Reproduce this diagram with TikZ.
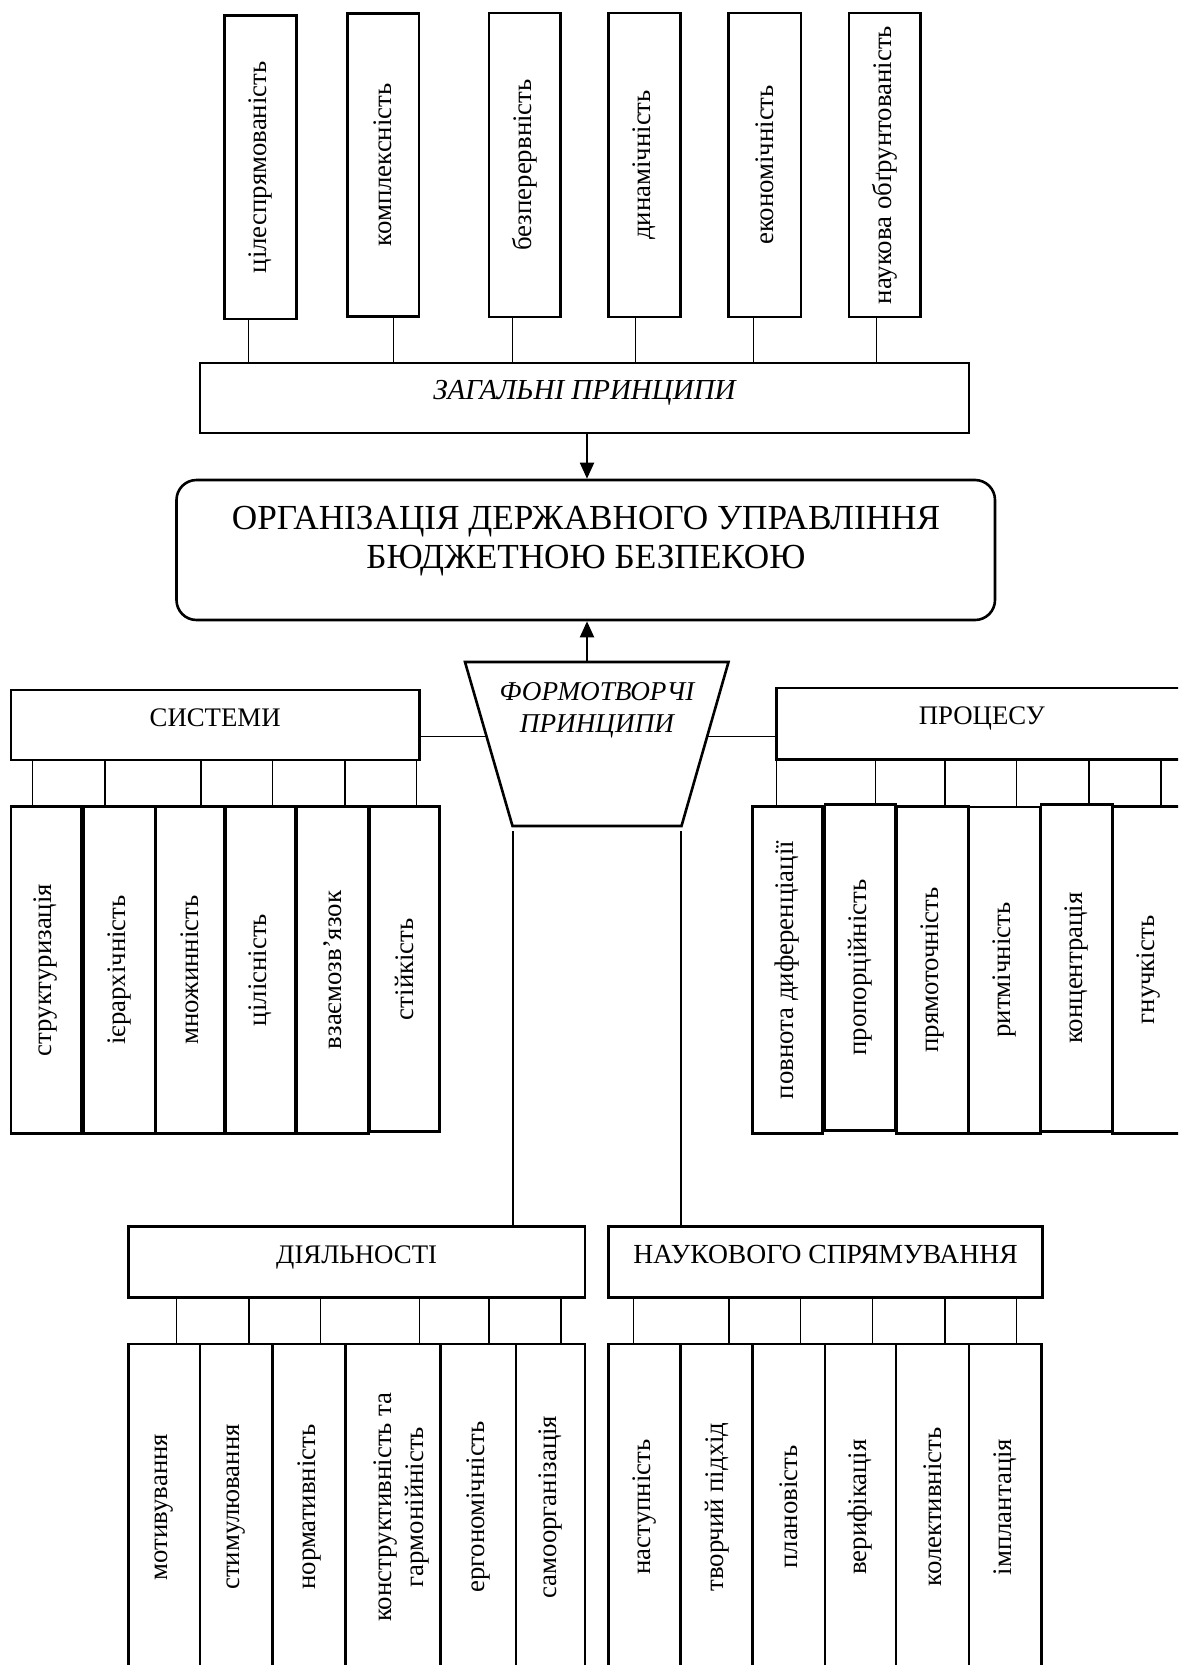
\documentclass[tikz,border=0pt]{standalone}
\usepackage{fontspec}
\setmainfont{Liberation Serif}
\usepackage{graphicx}
\usetikzlibrary{arrows.meta}

% box from corners: name, x1, x2, y1, y2, style, text
\newcommand\boxnode[7]{%
  \node[#6, minimum width={(#3-#2)*0.5pt}, minimum height={(#5-#4)*0.5pt}]
    (#1) at ({(#2+#3)/2},{(#4+#5)/2}) {#7};}
\newcommand\vtext[1]{\rotatebox{90}{#1}}

\tikzset{
  frame/.style={draw, line width=1.3pt, inner sep=0pt,
    font=\fontsize{13.4}{16}\selectfont},
  hdr/.style={frame, text height=9pt, text depth=7.9pt},
  item/.style={frame},
  conn/.style={line width=0.6pt},
  arr/.style={line width=1pt, -{Triangle[length=8pt,width=7pt]}},
}

\begin{document}
\begin{tikzpicture}[x=0.5pt,y=-0.5pt]
\path[use as bounding box] (0,0) rectangle (1178,1665);
\fill[white] (0,0) rectangle (1178,1665);
\clip (0,0) rectangle (1178,1665);

% general principles
\boxnode{t1}{224.6}{296.3}{15.7}{319}{item}{\vtext{цілеспрямованість}}
\boxnode{t2}{347.2}{419.0}{13.3}{316.7}{item}{\vtext{комплексність}}
\boxnode{t3}{488.8}{560.5}{13}{317}{item}{\vtext{безперервність}}
\boxnode{t4}{608.5}{680.7}{13}{317}{item}{\vtext{динамічність}}
\boxnode{t5}{728.7}{800.9}{13}{317}{item}{\vtext{економічність}}
\boxnode{t6}{848.9}{920.7}{13}{317}{item}{\vtext{наукова обґрунтованість}}

\boxnode{zag}{200}{969}{363}{433}{hdr, font=\fontsize{14.5}{17}\selectfont\itshape}{ЗАГАЛЬНІ ПРИНЦИПИ}

\foreach \x [count=\i] in {248.8,393.3,512.5,635.6,753.4,876.1}{
  \coordinate (cx) at (\x,0);
  \draw[conn] (t\i.south -| cx) -- (zag.north -| cx);
}

% central block
\boxnode{org}{176.5}{995}{480}{620}{draw, line width=1.3pt, rounded corners=10pt}{}
\node[font=\fontsize{17.6}{19.5}\selectfont, align=center] (orgt) at (586,541)
  {ОРГАНІЗАЦІЯ ДЕРЖАВНОГО УПРАВЛІННЯ\\БЮДЖЕТНОЮ БЕЗПЕКОЮ};

\coordinate (ax) at (587,0);
\draw[arr] (zag.south -| ax) -- (org.north -| ax);

% shaping principles
\coordinate (fTL) at (465,662);
\coordinate (fTR) at (728.5,662);
\coordinate (fBR) at (681.5,826);
\coordinate (fBL) at (512.5,826);
\draw[line width=1.3pt] (fTL) -- (fTR) -- (fBR) -- (fBL) -- cycle;
\node[font=\fontsize{13.6}{15.8}\selectfont\itshape, align=center] (form) at (597,710)
  {ФОРМОТВОРЧІ\\ПРИНЦИПИ};
\draw[arr] (fTL -| ax) -- (org.south -| ax);

\coordinate (fL) at (486.6,736.7);
\coordinate (fR) at (707.1,736.7);
\coordinate (fDL) at (513,831);
\coordinate (fDR) at (681,831);

% system
\boxnode{sys}{11}{419.3}{690}{760}{hdr}{СИСТЕМИ}
\draw[conn] (sys.east |- fL) -- (fL);
\boxnode{s1}{11}{81}{806.7}{1133.3}{item}{\vtext{структуризація}}
\boxnode{s2}{83.3}{155.7}{806.7}{1133.3}{item}{\vtext{ієрархічність}}
\boxnode{s3}{155.7}{224.3}{806.7}{1133.3}{item}{\vtext{множинність}}
\boxnode{s4}{225.7}{295.7}{806.7}{1133.3}{item}{\vtext{цілісність}}
\boxnode{s5}{296.7}{368.3}{806.7}{1133.3}{item}{\vtext{взаємозв’язок}}
\boxnode{s6}{369.3}{439.3}{806.7}{1131.7}{item}{\vtext{стійкість}}
\foreach \x [count=\i] in {32.7,105,201,272.7,345,416.7}{
  \coordinate (cx) at (\x,0);
  \draw[conn] (sys.south -| cx) -- (s\i.north -| cx);
}

% process
\boxnode{proc}{776.7}{1187}{688}{759.5}{hdr}{ПРОЦЕСУ}
\draw[conn] (fR) -- (proc.west |- fR);
\boxnode{p1}{752.3}{822.7}{806.7}{1133.3}{item}{\vtext{повнота диференціації}}
\boxnode{p2}{825}{895.7}{804.3}{1130.7}{item}{\vtext{пропорційність}}
\boxnode{p3}{896.7}{968.3}{806.7}{1133.3}{item}{\vtext{прямоточність}}
\boxnode{p4}{969}{1040.7}{807}{1133.3}{item}{\vtext{ритмічність}}
\boxnode{p5}{1041}{1112.7}{804.3}{1131.7}{item}{\vtext{концентрація}}
\boxnode{p6}{1112.7}{1184.3}{806.7}{1133.3}{item}{\vtext{гнучкість}}
\foreach \x [count=\i] in {776.7,875.7,945,1016.7,1089,1161}{
  \coordinate (cx) at (\x,0);
  \draw[conn] (proc.south -| cx) -- (p\i.north -| cx);
}

% activity
\boxnode{dia}{128.3}{585}{1226.7}{1297.3}{hdr}{ДІЯЛЬНОСТІ}
\draw[conn] (fDL) -- (dia.north -| fDL);
\boxnode{d1}{128.3}{200}{1344}{1670}{item}{\vtext{мотивування}}
\boxnode{d2}{200}{272.7}{1344}{1670}{item}{\vtext{стимулювання}}
\boxnode{d3}{272.7}{345.7}{1344}{1670}{item}{\vtext{нормативність}}
\boxnode{d4}{345.7}{440.7}{1344}{1670}{item}{\hspace*{8pt}\vtext{\begin{tabular}{@{}c@{}}конструктивність та\\гармонійність\end{tabular}}}
\boxnode{d5}{440.7}{516}{1344}{1670}{item}{\vtext{ергономічність}}
\boxnode{d6}{516}{585}{1344}{1670}{item}{\vtext{самоорганізація}}
\foreach \x [count=\i] in {176.7,249,320.7,419.3,489,561}{
  \coordinate (cx) at (\x,0);
  \draw[conn] (dia.south -| cx) -- (d\i.north -| cx);
}

% scientific direction
\boxnode{nauk}{608.3}{1042.7}{1226.7}{1297.7}{hdr, font=\fontsize{13.8}{16}\selectfont}{НАУКОВОГО СПРЯМУВАННЯ}
\draw[conn] (fDR) -- (nauk.north -| fDR);
\boxnode{n1}{608.3}{680.7}{1344}{1670}{item}{\vtext{наступність}}
\boxnode{n2}{680.7}{752.7}{1344}{1670}{item}{\vtext{творчий підхід}}
\boxnode{n3}{752.7}{825}{1344}{1670}{item}{\vtext{плановість}}
\boxnode{n4}{825}{896}{1344}{1670}{item}{\vtext{верифікація}}
\boxnode{n5}{896}{969}{1344}{1670}{item}{\vtext{колективність}}
\boxnode{n6}{969}{1041.7}{1344}{1670}{item}{\vtext{імплантація}}
\foreach \x [count=\i] in {633.3,729,800.7,872.7,945,1016.7}{
  \coordinate (cx) at (\x,0);
  \draw[conn] (nauk.south -| cx) -- (n\i.north -| cx);
}
\end{tikzpicture}
\end{document}
